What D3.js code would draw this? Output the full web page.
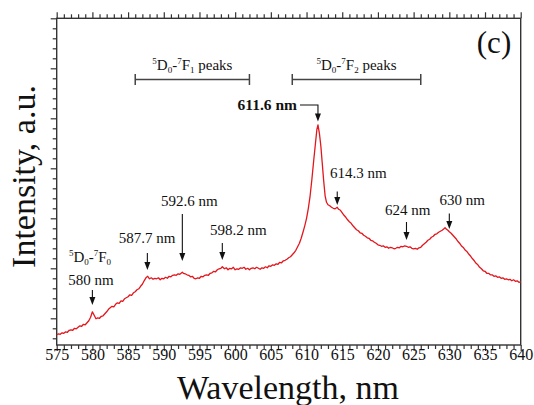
<!DOCTYPE html>
<html>
<head>
<meta charset="utf-8">
<script src="https://cdn.jsdelivr.net/npm/d3@7"></script>
<style>
  html, body { margin: 0; padding: 0; background: #fff; }
  svg { display: block; }
  text { font-family: "Liberation Serif", "Times New Roman", serif; fill: #111; }
</style>
</head>
<body>
<svg id="chart" width="534" height="405"></svg>
<script>
// Emission spectrum (Eu3+ 5D0 -> 7FJ transitions), wavelength in nm
const wavelength = [
  575.00, 575.25, 575.50, 575.75, 576.00, 576.25, 576.50, 576.75, 577.00, 577.25, 577.50, 577.75,
  578.00, 578.25, 578.50, 578.75, 579.00, 579.25, 579.50, 579.75, 580.00, 580.25, 580.50, 580.75,
  581.00, 581.25, 581.50, 581.75, 582.00, 582.25, 582.50, 582.75, 583.00, 583.25, 583.50, 583.75,
  584.00, 584.25, 584.50, 584.75, 585.00, 585.25, 585.50, 585.75, 586.00, 586.25, 586.50, 586.75,
  587.00, 587.25, 587.50, 587.75, 588.00, 588.25, 588.50, 588.75, 589.00, 589.25, 589.50, 589.75,
  590.00, 590.25, 590.50, 590.75, 591.00, 591.25, 591.50, 591.75, 592.00, 592.25, 592.60, 592.75,
  593.00, 593.25, 593.50, 593.75, 594.00, 594.25, 594.50, 594.75, 595.00, 595.25, 595.50, 595.75,
  596.00, 596.25, 596.50, 596.75, 597.00, 597.25, 597.50, 597.75, 598.00, 598.20, 598.50, 598.75,
  599.00, 599.25, 599.50, 599.75, 600.00, 600.25, 600.50, 600.75, 601.00, 601.25, 601.50, 601.75,
  602.00, 602.25, 602.50, 602.75, 603.00, 603.25, 603.50, 603.75, 604.00, 604.25, 604.50, 604.75,
  605.00, 605.25, 605.50, 605.75, 606.00, 606.25, 606.50, 606.75, 607.00, 607.25, 607.50, 607.75,
  608.00, 608.25, 608.50, 608.75, 609.00, 609.25, 609.50, 609.75, 610.00, 610.25, 610.50, 610.75,
  611.00, 611.25, 611.45, 611.60, 611.80, 612.00, 612.20, 612.40, 612.60, 612.80, 613.00, 613.25,
  613.50, 613.75, 614.00, 614.30, 614.50, 614.75, 615.00, 615.25, 615.50, 615.75, 616.00, 616.25,
  616.50, 616.75, 617.00, 617.25, 617.50, 617.75, 618.00, 618.25, 618.50, 618.75, 619.00, 619.25,
  619.50, 619.75, 620.00, 620.25, 620.50, 620.75, 621.00, 621.25, 621.50, 621.75, 622.00, 622.25,
  622.50, 622.75, 623.00, 623.25, 623.50, 623.75, 624.00, 624.25, 624.50, 624.75, 625.00, 625.25,
  625.50, 625.75, 626.00, 626.25, 626.50, 626.75, 627.00, 627.25, 627.50, 627.75, 628.00, 628.25,
  628.50, 628.75, 629.00, 629.25, 629.40, 629.60, 629.80, 630.00, 630.25, 630.50, 630.75, 631.00,
  631.25, 631.50, 631.75, 632.00, 632.25, 632.50, 632.75, 633.00, 633.25, 633.50, 633.75, 634.00,
  634.25, 634.50, 634.75, 635.00, 635.25, 635.50, 635.75, 636.00, 636.25, 636.50, 636.75, 637.00,
  637.25, 637.50, 637.75, 638.00, 638.25, 638.50, 638.75, 639.00, 639.25, 639.50, 639.75, 640.00
];
// intensity, arbitrary units
const intensity = [
  0.67, 0.69, 0.68, 0.71, 0.70, 0.73, 0.72, 0.76, 0.77, 0.76, 0.80, 0.79,
  0.82, 0.85, 0.84, 0.88, 0.87, 0.91, 0.95, 1.02, 1.13, 1.06, 0.99, 1.01,
  1.00, 1.04, 1.05, 1.09, 1.13, 1.18, 1.21, 1.24, 1.23, 1.28, 1.31, 1.30,
  1.35, 1.34, 1.39, 1.41, 1.43, 1.47, 1.46, 1.51, 1.53, 1.57, 1.59, 1.64,
  1.68, 1.75, 1.81, 1.84, 1.79, 1.81, 1.78, 1.80, 1.79, 1.81, 1.77, 1.80,
  1.79, 1.82, 1.80, 1.84, 1.83, 1.86, 1.87, 1.86, 1.89, 1.88, 1.92, 1.90,
  1.89, 1.87, 1.86, 1.83, 1.84, 1.80, 1.79, 1.81, 1.80, 1.84, 1.83, 1.86,
  1.87, 1.86, 1.90, 1.91, 1.94, 1.93, 1.97, 1.99, 2.00, 2.03, 1.99, 2.01,
  1.97, 2.00, 1.99, 2.02, 1.97, 1.99, 1.98, 2.01, 2.00, 2.02, 1.98, 2.00,
  1.97, 2.00, 2.01, 1.99, 2.02, 2.00, 1.98, 2.01, 2.00, 2.03, 2.01, 2.05,
  2.04, 2.07, 2.06, 2.09, 2.08, 2.12, 2.11, 2.15, 2.16, 2.18, 2.21, 2.23,
  2.27, 2.31, 2.36, 2.43, 2.50, 2.60, 2.72, 2.85, 3.00, 3.20, 3.45, 3.78,
  4.15, 4.50, 4.78, 4.87, 4.70, 4.45, 4.10, 3.75, 3.45, 3.32, 3.27, 3.25,
  3.22, 3.20, 3.19, 3.22, 3.18, 3.16, 3.11, 3.06, 3.02, 2.97, 2.93, 2.90,
  2.85, 2.81, 2.77, 2.75, 2.71, 2.70, 2.66, 2.64, 2.61, 2.60, 2.56, 2.55,
  2.52, 2.50, 2.47, 2.46, 2.44, 2.45, 2.42, 2.43, 2.40, 2.42, 2.41, 2.39,
  2.40, 2.42, 2.41, 2.44, 2.43, 2.45, 2.44, 2.42, 2.43, 2.40, 2.39, 2.40,
  2.38, 2.41, 2.42, 2.46, 2.49, 2.52, 2.56, 2.58, 2.62, 2.64, 2.68, 2.69,
  2.72, 2.74, 2.76, 2.79, 2.81, 2.78, 2.76, 2.73, 2.70, 2.66, 2.62, 2.58,
  2.53, 2.49, 2.44, 2.41, 2.36, 2.33, 2.28, 2.24, 2.19, 2.15, 2.10, 2.07,
  2.02, 1.99, 1.95, 1.94, 1.90, 1.90, 1.87, 1.87, 1.84, 1.85, 1.82, 1.83,
  1.80, 1.81, 1.78, 1.79, 1.77, 1.78, 1.75, 1.77, 1.74, 1.75, 1.72, 1.73
];

// Axis ticks
const xMajorTicks = [575, 580, 585, 590, 595, 600, 605, 610, 615, 620, 625, 630, 635, 640];
const yMajorTicks = [1, 2, 3, 4, 5, 6, 7];

// Annotated peaks
const peakWl = [580, 587.7, 592.6, 598.2, 614.3, 624, 630];
const peakLabels = ["580 nm", "587.7 nm", "592.6 nm", "598.2 nm", "614.3 nm", "624 nm", "630 nm"];
const mainPeakWl = 611.6;
const mainPeakLabel = "611.6 nm";

// Transition groups
const groupStart = [586, 608];
const groupEnd = [602, 626];
const groupFinal = ["1", "2"];

const W = 534, H = 405;
const plot = { left: 56.7, right: 520.7, top: 18.3, bottom: 345 };

const svg = d3.select("#chart");
svg.append("rect").attr("width", W).attr("height", H).attr("fill", "#fff");

const x = d3.scaleLinear().domain([575, 640]).range([plot.left, plot.right]);
const y = d3.scaleLinear().domain([0.466, 7]).range([plot.bottom, plot.top]);

const axisColor = "#333";
const xMinor = d3.range(575, 641, 1).filter(v => v % 5 !== 0);
const yMinor = d3.range(0.6, 7.0001, 0.2).map(v => +v.toFixed(1)).filter(v => Math.abs(v - Math.round(v)) > 1e-6);

function styleAxis(g) {
  g.select(".domain").remove();
  g.selectAll(".tick line").attr("stroke", axisColor).attr("stroke-width", 1.2);
}

// bottom axis: major with labels, minor without
const gxb = svg.append("g").attr("transform", `translate(0,${plot.bottom})`)
  .call(d3.axisBottom(x).tickValues(xMajorTicks).tickSize(6).tickSizeOuter(0).tickFormat(d3.format("d")));
styleAxis(gxb);
gxb.selectAll("text").attr("y", 14.5).attr("dy", 0)
  .style("font-size", "16px").style("font-family", "'Liberation Serif', serif").style("fill", "#111");
const gxbm = svg.append("g").attr("transform", `translate(0,${plot.bottom})`)
  .call(d3.axisBottom(x).tickValues(xMinor).tickSize(4).tickFormat(""));
styleAxis(gxbm);

// top axis (mirror, no labels)
const gxt = svg.append("g").attr("transform", `translate(0,${plot.top})`)
  .call(d3.axisTop(x).tickValues(xMajorTicks).tickSize(6).tickFormat(""));
styleAxis(gxt);
const gxtm = svg.append("g").attr("transform", `translate(0,${plot.top})`)
  .call(d3.axisTop(x).tickValues(xMinor).tickSize(4).tickFormat(""));
styleAxis(gxtm);

// left axis (ticks only)
const gyl = svg.append("g").attr("transform", `translate(${plot.left},0)`)
  .call(d3.axisLeft(y).tickValues(yMajorTicks).tickSize(6).tickFormat(""));
styleAxis(gyl);
const gylm = svg.append("g").attr("transform", `translate(${plot.left},0)`)
  .call(d3.axisLeft(y).tickValues(yMinor).tickSize(4).tickFormat(""));
styleAxis(gylm);

// frame
svg.append("rect")
  .attr("x", plot.left).attr("y", plot.top)
  .attr("width", plot.right - plot.left).attr("height", plot.bottom - plot.top)
  .attr("fill", "none").attr("stroke", axisColor).attr("stroke-width", 1.4);

// spectrum
const data = wavelength.map((w, i) => [w, intensity[i]]);
const line = d3.line().x(d => x(d[0])).y(d => y(d[1]));
svg.append("path").datum(data)
  .attr("d", line)
  .attr("fill", "none")
  .attr("stroke", "#e3161c")
  .attr("stroke-width", 1.3)
  .attr("stroke-linejoin", "round");

// axis titles
svg.append("text")
  .attr("x", 288).attr("y", 399)
  .attr("text-anchor", "middle").attr("font-size", 34)
  .text("Wavelength, nm");
svg.append("text")
  .attr("transform", "translate(34.5,176.5) rotate(-90)")
  .attr("text-anchor", "middle").attr("font-size", 34)
  .text("Intensity, a.u.");

// panel label
svg.append("text")
  .attr("x", 494).attr("y", 52.5)
  .attr("text-anchor", "middle").attr("font-size", 31)
  .text("(c)");

// arrow helper: vertical shaft with a filled head at the tip
function arrow(xp, y1, y2) {
  svg.append("line").attr("x1", xp).attr("x2", xp).attr("y1", y1).attr("y2", y2 - 6)
    .attr("stroke", "#111").attr("stroke-width", 1.1);
  svg.append("path")
    .attr("d", `M${xp - 3},${y2 - 8} L${xp + 3},${y2 - 8} L${xp},${y2} Z`)
    .attr("fill", "#111");
}

// peak annotations: [label centre x, label baseline, arrow top, arrow tip]
const peakLayout = [
  [91, 285, 290, 305],
  [147, 243, 253, 270],
  [189.4, 205.5, 214, 261],
  [238.3, 234.5, 243, 260],
  [358.3, 178, 191.5, 205],
  [407.7, 215, 222, 240],
  [462.3, 205, 213.5, 229]
];
peakWl.forEach((w, i) => {
  const [tx, ty, a1, a2] = peakLayout[i];
  svg.append("text").attr("x", tx).attr("y", ty)
    .attr("text-anchor", "middle").attr("font-size", 15)
    .text(peakLabels[i]);
  arrow(x(w), a1, a2);
});

// main peak with elbow leader
const mpx = x(mainPeakWl);
svg.append("text").attr("x", 297).attr("y", 109.5)
  .attr("text-anchor", "end").attr("font-size", 15.5).attr("font-weight", "bold")
  .text(mainPeakLabel);
svg.append("path")
  .attr("d", `M300,105 H${mpx} V${121.5 - 6}`)
  .attr("fill", "none").attr("stroke", "#111").attr("stroke-width", 1.1);
svg.append("path")
  .attr("d", `M${mpx - 3},${121.5 - 8} L${mpx + 3},${121.5 - 8} L${mpx},121.5 Z`)
  .attr("fill", "#111");

// term-symbol text: ^5D_0-^7F_j with optional trailing text
function termText(sel, j, tail) {
  const big = 15, small = 9;
  sel.append("tspan").attr("font-size", small).attr("dy", -6).text("5");
  sel.append("tspan").attr("font-size", big).attr("dy", 6).text("D");
  sel.append("tspan").attr("font-size", small).attr("dy", 3).text("0");
  sel.append("tspan").attr("font-size", big).attr("dy", -3).text("-");
  sel.append("tspan").attr("font-size", small).attr("dy", -6).text("7");
  sel.append("tspan").attr("font-size", big).attr("dy", 6).text("F");
  sel.append("tspan").attr("font-size", small).attr("dy", 3).text(j);
  if (tail) sel.append("tspan").attr("font-size", big).attr("dy", -3).text(tail);
}

// 5D0-7F0 label above the 580 nm arrow
termText(svg.append("text").attr("x", 90).attr("y", 261.5).attr("text-anchor", "middle"), "0", null);

// group brackets
const bracketY = 79.5;
groupStart.forEach((s, i) => {
  const x1 = x(s), x2 = x(groupEnd[i]);
  svg.append("path")
    .attr("d", `M${x1},${bracketY - 5.5} V${bracketY + 5.5} M${x1},${bracketY} H${x2} M${x2},${bracketY - 5.5} V${bracketY + 5.5}`)
    .attr("fill", "none").attr("stroke", "#444").attr("stroke-width", 1.5);
  termText(svg.append("text").attr("x", (x1 + x2) / 2).attr("y", 69.5).attr("text-anchor", "middle"),
    groupFinal[i], " peaks");
});
</script>
</body>
</html>
